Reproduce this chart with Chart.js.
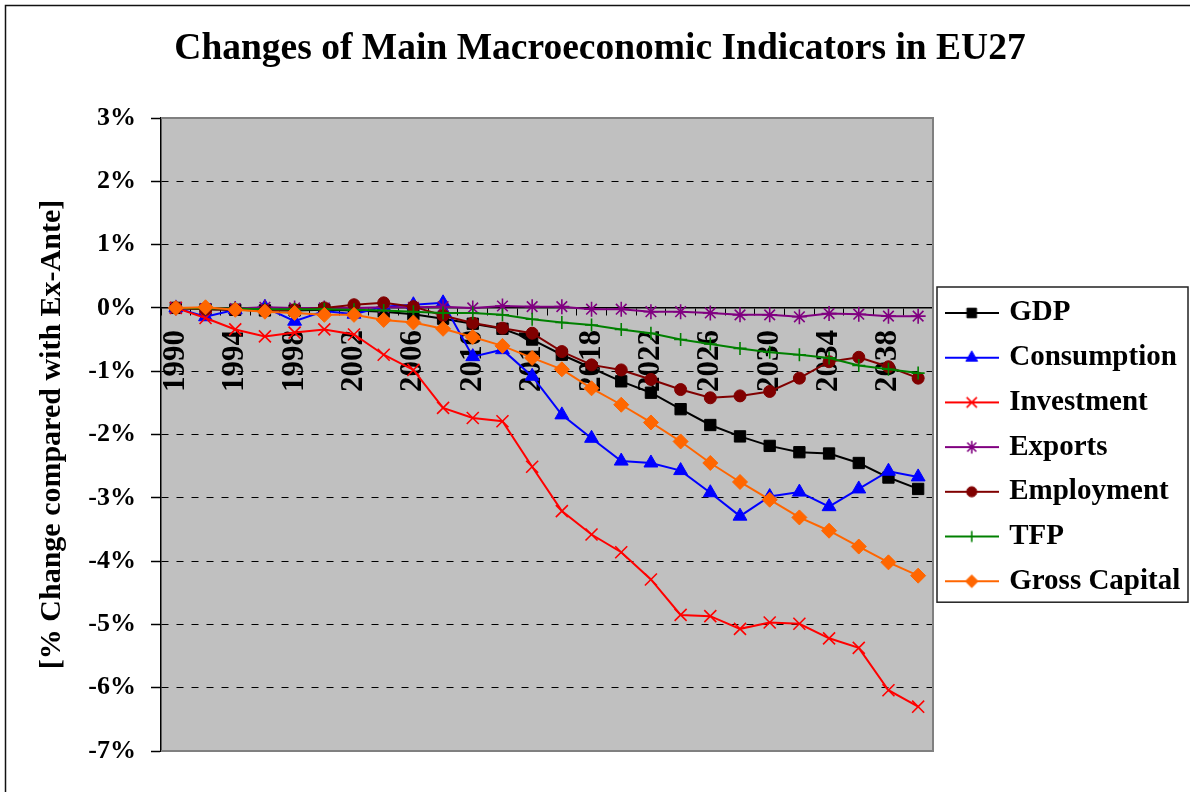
<!DOCTYPE html>
<html>
<head>
<meta charset="utf-8">
<script src="https://cdn.jsdelivr.net/npm/chart.js@4.4.1/dist/chart.umd.min.js"></script>
<style>
  html, body { margin: 0; padding: 0; background: #fff; }
  canvas { display: block; }
</style>
</head>
<body>
<canvas id="chart" width="1190" height="792"></canvas>
<script>
// Years on the category axis (every second year simulated)
const years = ['1990','1992','1994','1996','1998','2000','2002','2004','2006','2008',
               '2010','2012','2014','2016','2018','2020','2022','2024','2026','2028',
               '2030','2032','2034','2036','2038','2040'];

// % change compared with the ex-ante scenario
const gdp          = [0, -0.02, -0.03, -0.04, -0.04, -0.03, -0.04, -0.06, -0.10, -0.17, -0.25, -0.33, -0.50, -0.74, -0.95, -1.16, -1.34, -1.60, -1.85, -2.03, -2.18, -2.28, -2.30, -2.45, -2.68, -2.86];
const consumption  = [0, -0.14, -0.03, 0.01, -0.21, -0.05, -0.10, 0.02, 0.05, 0.08, -0.77, -0.66, -1.08, -1.69, -2.06, -2.42, -2.45, -2.57, -2.92, -3.29, -2.98, -2.91, -3.14, -2.86, -2.58, -2.67];
const investment   = [0, -0.16, -0.34, -0.45, -0.39, -0.34, -0.42, -0.74, -0.98, -1.58, -1.74, -1.79, -2.51, -3.21, -3.58, -3.86, -4.29, -4.85, -4.87, -5.07, -4.97, -4.99, -5.22, -5.37, -6.04, -6.30];
const exportsChg   = [0, -0.01, -0.01, 0.01, 0, 0, 0, 0.01, 0.01, 0.02, 0, 0.03, 0.02, 0.02, -0.02, -0.02, -0.06, -0.06, -0.08, -0.11, -0.11, -0.14, -0.09, -0.10, -0.13, -0.13];
const employment   = [0, -0.02, -0.03, -0.04, -0.03, 0, 0.05, 0.08, 0.02, -0.12, -0.24, -0.32, -0.40, -0.69, -0.90, -0.98, -1.13, -1.29, -1.42, -1.39, -1.32, -1.11, -0.85, -0.78, -0.93, -1.11];
const tfp          = [0, -0.01, -0.01, -0.02, -0.02, -0.02, -0.03, -0.04, -0.06, -0.08, -0.08, -0.11, -0.18, -0.23, -0.27, -0.34, -0.40, -0.50, -0.57, -0.64, -0.70, -0.74, -0.79, -0.91, -0.97, -1.03];
const grossCapital = [0, 0.01, -0.03, -0.06, -0.08, -0.11, -0.11, -0.19, -0.23, -0.33, -0.46, -0.60, -0.79, -0.97, -1.27, -1.53, -1.81, -2.11, -2.45, -2.75, -3.03, -3.31, -3.52, -3.77, -4.02, -4.23];

const SERIF = "'Liberation Serif', 'Times New Roman', Times, serif";

// Series styling: colour, marker, marker radius, marker stroke width, draw order
const seriesDefs = [
  { label: 'GDP',           data: gdp,          color: '#000000', style: 'rect',     r: 8,   bw: 1,   order: 6 },
  { label: 'Consumption',   data: consumption,  color: '#0000FF', style: 'triangle', r: 8,   bw: 1,   order: 5 },
  { label: 'Investment',    data: investment,   color: '#FF0000', style: 'crossRot', r: 8.5, bw: 1.6, order: 4 },
  { label: 'Exports',       data: exportsChg,   color: '#800080', style: 'star',     r: 7.5, bw: 1.6, order: 3 },
  { label: 'Employment',    data: employment,   color: '#800000', style: 'circle',   r: 6,   bw: 1,   order: 2 },
  { label: 'TFP',           data: tfp,          color: '#008000', style: 'cross',    r: 6.5, bw: 1.6, order: 1 },
  { label: 'Gross Capital', data: grossCapital, color: '#FF6600', style: 'rectRot',  r: 7.5, bw: 1,   order: 0 }
];

// Legend swatch: short line with the series marker in the middle
function swatch(def) {
  const c = document.createElement('canvas');
  c.width = 54; c.height = 22;
  const g = c.getContext('2d');
  g.strokeStyle = def.color;
  g.lineWidth = 2;
  g.beginPath(); g.moveTo(0, 11); g.lineTo(54, 11); g.stroke();
  g.fillStyle = def.color;
  g.lineWidth = def.bw;
  Chart.helpers.drawPoint(g, { pointStyle: def.style, radius: def.r * 0.85, borderWidth: def.bw, rotation: 0 }, 27, 11);
  return c;
}
const swatches = seriesDefs.map(swatch);

const datasets = seriesDefs.map(d => ({
  label: d.label,
  data: d.data,
  borderColor: d.color,
  backgroundColor: d.color,
  borderWidth: 2,
  tension: 0,
  pointStyle: d.style,
  pointRadius: d.r,
  pointHoverRadius: d.r,
  pointBorderWidth: d.bw,
  pointBackgroundColor: d.color,
  pointBorderColor: d.color,
  order: d.order
}));

// Background, plot frame, legend box and outer frame
const decorations = {
  id: 'decorations',
  beforeDraw(chart) {
    const { ctx, chartArea: a } = chart;
    ctx.save();
    ctx.fillStyle = '#ffffff';
    ctx.fillRect(0, 0, chart.width, chart.height);
    ctx.fillStyle = '#C0C0C0';
    ctx.fillRect(a.left, a.top, a.right - a.left, a.bottom - a.top);
    ctx.restore();
  },
  afterDraw(chart) {
    const { ctx, chartArea: a, legend } = chart;
    ctx.save();
    // plot area border (top, right, bottom)
    ctx.strokeStyle = '#808080';
    ctx.lineWidth = 2;
    ctx.beginPath();
    ctx.moveTo(a.left, a.top);
    ctx.lineTo(a.right, a.top);
    ctx.lineTo(a.right, a.bottom);
    ctx.lineTo(a.left, a.bottom);
    ctx.stroke();
    // legend box
    const hb = legend.legendHitBoxes;
    if (hb && hb.length) {
      const top = hb[0].top - 11.5;
      const bottom = hb[hb.length - 1].top + 35.5;
      const left = legend.left + 4;
      const right = legend.right - 2;
      ctx.strokeStyle = '#222';
      ctx.lineWidth = 1.5;
      ctx.strokeRect(left, top, right - left, bottom - top);
    }
    // outer chart frame
    ctx.strokeStyle = '#111';
    ctx.lineWidth = 1.5;
    ctx.beginPath();
    ctx.moveTo(5.5, chart.height);
    ctx.lineTo(5.5, 5.5);
    ctx.lineTo(chart.width, 5.5);
    ctx.stroke();
    ctx.restore();
  }
};

new Chart(document.getElementById('chart'), {
  type: 'line',
  data: { labels: years, datasets },
  plugins: [decorations],
  options: {
    responsive: false,
    animation: false,
    devicePixelRatio: 1,
    layout: { padding: { left: 10, right: 0, top: 0, bottom: 41 } },
    plugins: {
      tooltip: { enabled: false },
      title: {
        display: true,
        text: 'Changes of Main Macroeconomic Indicators in EU27',
        color: '#000',
        font: { family: SERIF, size: 37.5, weight: 'bold' },
        padding: { top: 27, bottom: 46 }
      },
      legend: {
        position: 'right',
        fullSize: false,
        maxWidth: 257,
        title: { display: true, text: '', font: { size: 12 }, padding: { top: 0, bottom: 10.8 } },
        labels: {
          usePointStyle: true,
          pointStyleWidth: 46,
          padding: 15.7,
          color: '#000',
          font: { family: SERIF, size: 29, weight: 'bold' },
          generateLabels(chart) {
            const items = Chart.defaults.plugins.legend.labels.generateLabels(chart);
            items.forEach(it => { it.pointStyle = swatches[it.datasetIndex]; });
            return items.sort((a, b) => a.datasetIndex - b.datasetIndex);
          }
        }
      }
    },
    scales: {
      x: {
        type: 'category',
        position: { y: 0 },
        offset: true,
        grid: { display: true, drawOnChartArea: false, drawTicks: true, tickLength: 7, tickColor: '#000', tickWidth: 1, offset: true },
        border: { display: true, color: '#000', width: 1.5 },
        ticks: {
          autoSkip: false,
          minRotation: 90,
          maxRotation: 90,
          padding: 15,
          color: '#000',
          font: { family: SERIF, size: 31, weight: 'bold' },
          callback(value, index) { return index % 2 === 0 ? this.getLabelForValue(value) : ''; }
        }
      },
      y: {
        min: -7,
        max: 3,
        afterFit(scale) { scale.width = 151; },
        grid: {
          color: c => (c.tick && (c.tick.value === 0 || c.tick.value === 3 || c.tick.value === -7)) ? 'rgba(0,0,0,0)' : '#000',
          lineWidth: 1,
          drawTicks: true,
          tickLength: 10,
          tickColor: '#000',
          tickWidth: 1.5,
          tickBorderDash: []
        },
        border: { display: true, color: '#000', width: 1.5, dash: [7, 8] },
        ticks: {
          stepSize: 1,
          padding: 15,
          color: '#000',
          font: { family: SERIF, size: 26, weight: 'bold' },
          callback: v => v + '%'
        },
        title: {
          display: true,
          text: '[% Change compared with Ex-Ante]',
          color: '#000',
          font: { family: SERIF, size: 30, weight: 'bold' },
          padding: { top: 24, bottom: 0 }
        }
      }
    }
  }
});
</script>
</body>
</html>
